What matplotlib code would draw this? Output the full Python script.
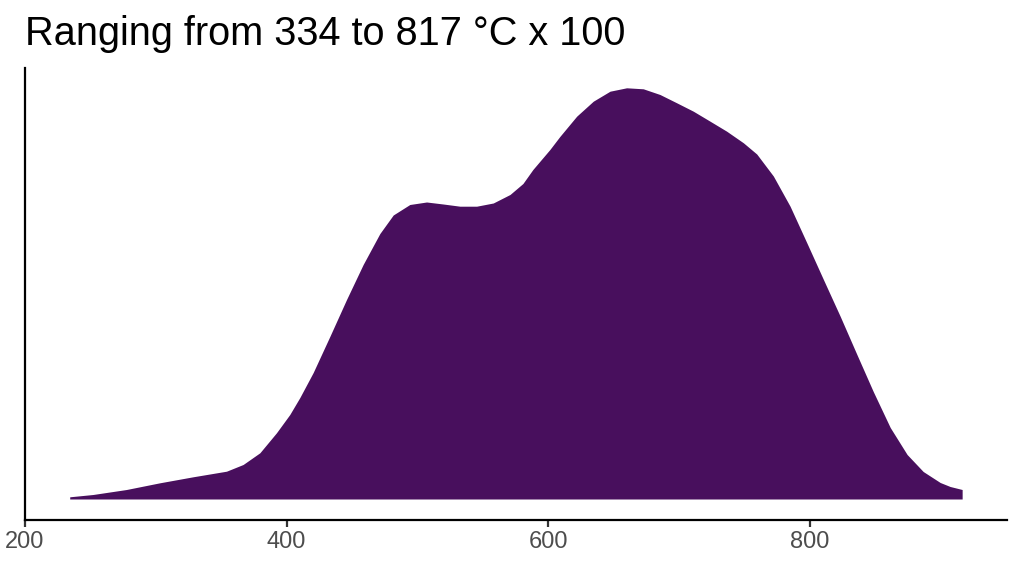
import numpy as np
import matplotlib.pyplot as plt

# values (temperature, relative density height)
temperature = [234.2, 252.0, 277.6, 303.1, 328.5, 354.1, 366.8, 379.6, 392.3,
               402.5, 410.2, 420.4, 433.1, 445.9, 458.6, 471.4, 481.6, 494.3,
               507.1, 519.8, 532.6, 545.4, 558.1, 570.9, 580.8, 588.4, 601.4,
               609.0, 621.9, 634.6, 647.4, 660.1, 672.8, 685.6, 698.4, 711.1,
               723.9, 736.6, 749.4, 759.6, 772.3, 785.1, 797.9, 810.6, 823.4,
               836.2, 848.7, 861.7, 874.6, 886.9, 899.9, 907.5, 916.7]
density = [2.2, 4.5, 9.5, 16.2, 22.2, 27.8, 34.5, 46.2, 66.2,
           84.5, 101.5, 126.5, 162.5, 199.5, 234.5, 265.5, 284, 294.5,
           297, 295, 292.8, 292.8, 296, 304.5, 315.5, 329.5, 349.5,
           362.5, 382.8, 397.8, 407.8, 411.2, 410.2, 404.5, 396.2, 387.8,
           377.8, 367.8, 356.2, 345, 323, 292.8, 256.2, 219.5, 182.8,
           144.5, 107.5, 71.5, 44.5, 27.5, 16.5, 12.5, 9.5]
x_ticks = [200, 400, 600, 800]
title = "Ranging from 334 to 817 °C x 100"

plt.rcParams['font.family'] = ['Liberation Sans', 'DejaVu Sans']

fig = plt.figure(figsize=(10.24, 5.76), dpi=100)
ax = fig.add_axes([25 / 1024, 1 - 520 / 576, 982 / 1024, 452 / 576])

ax.fill_between(temperature, 0, density, color='#480F5D', linewidth=0)

ax.set_xlim(200, 951)
ax.set_ylim(-21, 431)
ax.set_xticks(x_ticks)
ax.set_yticks([])

for side in ['top', 'right']:
    ax.spines[side].set_visible(False)
for side in ['left', 'bottom']:
    ax.spines[side].set_linewidth(1.6)
    ax.spines[side].set_color('black')

ax.tick_params(axis='x', length=5, width=1.6, color='#333333',
               labelsize=17, labelcolor='#4D4D4D', pad=3)

fig.text(25 / 1024, 1 - 45 / 576, title, fontsize=28.6, va='baseline', ha='left')

fig.savefig('out.png', dpi=100)
